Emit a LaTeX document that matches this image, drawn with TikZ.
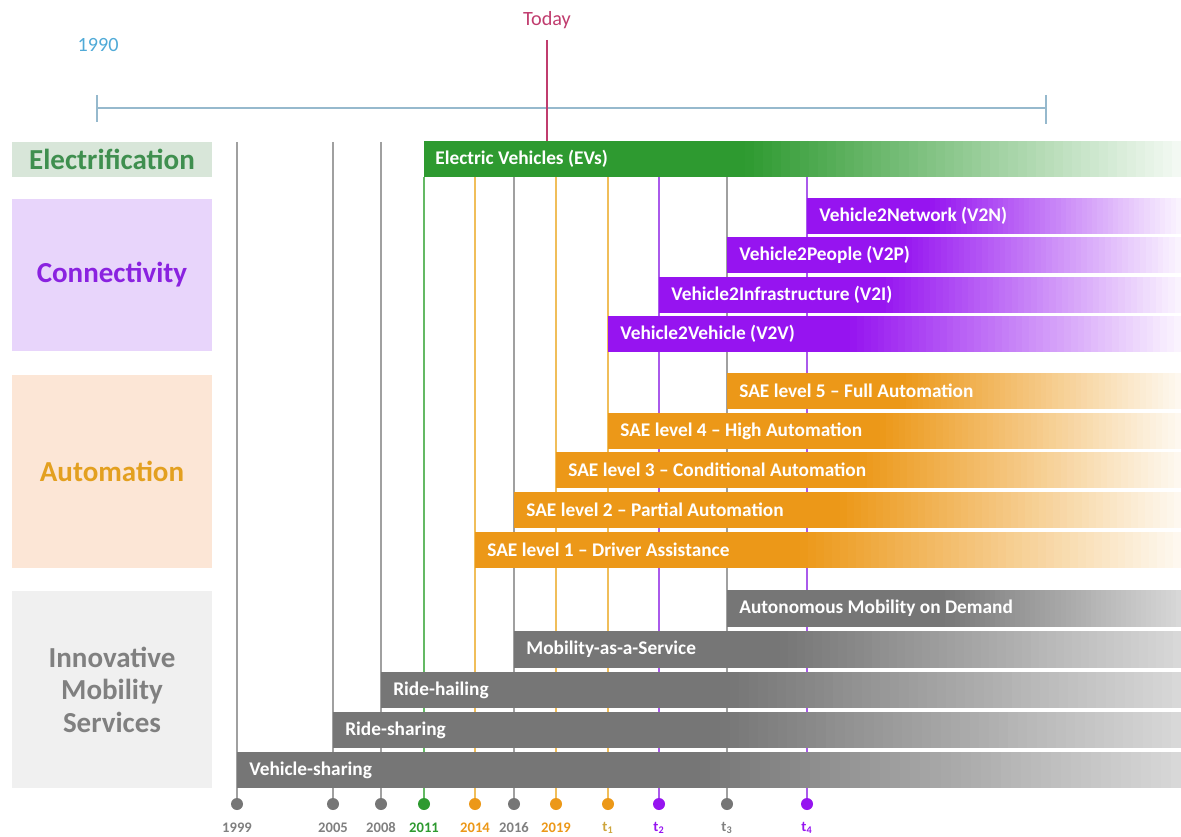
\documentclass[tikz,border=0pt]{standalone}
\usepackage{fontspec}
\setmainfont{Carlito}
\usepackage{tikz}
\usetikzlibrary{positioning}

\definecolor{evgreen}{RGB}{46,154,48}
\definecolor{conpurple}{RGB}{150,20,240}
\definecolor{autoorange}{RGB}{236,152,24}
\definecolor{imsgray}{RGB}{118,118,118}
\definecolor{elfill}{RGB}{216,230,217}
\definecolor{eltext}{RGB}{63,143,79}
\definecolor{confill}{RGB}{232,213,251}
\definecolor{context}{RGB}{138,34,224}
\definecolor{autofill}{RGB}{252,230,214}
\definecolor{autotext}{RGB}{227,160,32}
\definecolor{imsfill}{RGB}{240,240,240}
\definecolor{imstext}{RGB}{128,128,128}
\definecolor{tlblue}{RGB}{150,185,205}
\definecolor{yearblue}{RGB}{80,170,215}
\definecolor{todaypink}{RGB}{192,60,110}
\definecolor{guidegray}{RGB}{160,160,160}
\definecolor{guidegreen}{RGB}{100,185,100}
\definecolor{guideorange}{RGB}{240,190,90}
\definecolor{guidepurple}{RGB}{170,90,235}
\definecolor{tonegold}{RGB}{205,165,60}

% bar: colour, start x, fade x, top y, bottom y, end tint
\newcommand{\timebar}[6]{%
  \fill[#1] (#2,#4) rectangle (#3+1,#5);
  \foreach \k in {0,...,47}{%
    \pgfmathsetmacro{\xa}{#3+(1181-#3)/48*\k}
    \pgfmathsetmacro{\xb}{min(1181,#3+(1181-#3)/48*(\k+1)+1)}
    \pgfmathsetmacro{\tint}{100-(100-#6)/48*(\k+0.5)}
    \fill[#1!\tint] (\xa,#4) rectangle (\xb,#5);
  }%
}

\tikzset{
  catbox/.style={inner sep=0pt, minimum width=40mm, align=center,
    font=\fontsize{16.5}{18.5}\selectfont\bfseries},
  bartext/.style={anchor=west, inner sep=0pt, text=white,
    font=\fontsize{11}{13}\selectfont\bfseries},
  toplabel/.style={inner sep=0pt, font=\fontsize{11.5}{13}\selectfont},
  yeardot/.style={circle, inner sep=0pt, minimum size=2.4mm},
  yearlabel/.style={inner sep=0pt, font=\fontsize{8.3}{9}\selectfont\bfseries},
  guide/.style={line width=0.6pt},
}

\begin{document}
\begin{tikzpicture}[x=0.2mm, y=-0.2mm]
\useasboundingbox (0,0) rectangle (1181,837);

% category boxes
\draw (112,159.5) node[catbox, fill=elfill, text=eltext, minimum height=7mm] (catel) {Electrification};
\draw (112,275) node[catbox, fill=confill, text=context, minimum height=30.4mm] (catcon) {Connectivity};
\draw (112,471.5) node[catbox, fill=autofill, text=autotext, minimum height=38.6mm] (catauto) {Automation};
\draw (112,689.5) node[catbox, fill=imsfill, text=imstext, minimum height=39.4mm] (catims) {Innovative\\Mobility\\Services};

% timeline
\coordinate (tlstart) at (97,108);
\coordinate (tlend) at (1046,108);
\draw[tlblue, line width=0.8pt] (tlstart) -- (tlend);
\draw[tlblue, line width=0.8pt] (97,95) -- (97,122);
\draw[tlblue, line width=0.8pt] (1046,95) -- (1046,124);
\draw (98,45) node[toplabel, text=yearblue] (yrstart) {1990};
\draw (547,20) node[toplabel, text=todaypink] (today) {Today};
\coordinate (todayend) at (547,141);
\draw[todaypink, line width=0.6pt, shorten <=2.2mm] (today) -- (todayend);

% milestones
\draw (237,804) node[yeardot, fill=imsgray] (d1999) {};
\draw (333,804) node[yeardot, fill=imsgray] (d2005) {};
\draw (381,804) node[yeardot, fill=imsgray] (d2008) {};
\draw (424,804) node[yeardot, fill=evgreen] (d2011) {};
\draw (475,804) node[yeardot, fill=autoorange] (d2014) {};
\draw (514,804) node[yeardot, fill=imsgray] (d2016) {};
\draw (556,804) node[yeardot, fill=autoorange] (d2019) {};
\draw (608,804) node[yeardot, fill=autoorange] (dt1) {};
\draw (659,804) node[yeardot, fill=conpurple] (dt2) {};
\draw (727,804) node[yeardot, fill=imsgray] (dt3) {};
\draw (807,804) node[yeardot, fill=conpurple] (dt4) {};

\coordinate (top1999) at (237,142);
\coordinate (top2005) at (333,142);
\coordinate (top2008) at (381,142);
\coordinate (top2011) at (424,177);
\coordinate (top2014) at (475,177);
\coordinate (top2016) at (514,177);
\coordinate (top2019) at (556,177);
\coordinate (topt1) at (608,177);
\coordinate (topt2) at (659,177);
\coordinate (topt3) at (727,177);
\coordinate (topt4) at (807,141);

\draw[guide, guidegray] (top1999) -- (d1999);
\draw[guide, guidegray] (top2005) -- (d2005);
\draw[guide, guidegray] (top2008) -- (d2008);
\draw[guide, guidegreen] (top2011) -- (d2011);
\draw[guide, guideorange] (top2014) -- (d2014);
\draw[guide, guidegray] (top2016) -- (d2016);
\draw[guide, guideorange] (top2019) -- (d2019);
\draw[guide, guideorange] (topt1) -- (dt1);
\draw[guide, guidepurple] (topt2) -- (dt2);
\draw[guide, guidegray] (topt3) -- (dt3);
\draw[guide, guidepurple] (topt4) -- (dt4);

% bars, fading towards the future
\timebar{evgreen}{424}{745}{141}{177}{5}
\timebar{conpurple}{807}{930}{198}{234}{4}
\timebar{conpurple}{727}{900}{237}{273}{4}
\timebar{conpurple}{659}{880}{277}{313}{4}
\timebar{conpurple}{608}{850}{316}{352}{4}
\timebar{autoorange}{727}{900}{373}{409}{6}
\timebar{autoorange}{608}{880}{413}{449}{6}
\timebar{autoorange}{556}{860}{452}{488}{6}
\timebar{autoorange}{514}{840}{492}{528}{6}
\timebar{autoorange}{475}{800}{532}{568}{6}
\timebar{imsgray}{727}{940}{590}{627}{28}
\timebar{imsgray}{514}{780}{631}{668}{28}
\timebar{imsgray}{381}{730}{672}{708}{28}
\timebar{imsgray}{333}{720}{712}{748}{28}
\timebar{imsgray}{237}{700}{752}{788}{28}

% bar labels
\draw (435,159) node[bartext] (ev) {Electric Vehicles (EVs)};
\draw (819,216) node[bartext] (vtwon) {Vehicle2Network (V2N)};
\draw (739,255) node[bartext] (vtwop) {Vehicle2People (V2P)};
\draw (671,295) node[bartext] (vtwoi) {Vehicle2Infrastructure (V2I)};
\draw (620,334) node[bartext] (vtwov) {Vehicle2Vehicle (V2V)};
\draw (739,391) node[bartext] (saefive) {SAE level 5 -- Full Automation};
\draw (620,431) node[bartext] (saefour) {SAE level 4 -- High Automation};
\draw (568,470) node[bartext] (saethree) {SAE level 3 -- Conditional Automation};
\draw (526,510) node[bartext] (saetwo) {SAE level 2 -- Partial Automation};
\draw (487,550) node[bartext] (saeone) {SAE level 1 -- Driver Assistance};
\draw (739,608.5) node[bartext] (amod) {Autonomous Mobility on Demand};
\draw (526,649.5) node[bartext] (maas) {Mobility-as-a-Service};
\draw (393,690) node[bartext] (ridehail) {Ride-hailing};
\draw (345,730) node[bartext] (rideshare) {Ride-sharing};
\draw (249,770) node[bartext] (vehshare) {Vehicle-sharing};

% milestone labels
\node[yearlabel, text=imstext, below=2.4mm of d1999] (l1999) {1999};
\node[yearlabel, text=imstext, below=2.4mm of d2005] (l2005) {2005};
\node[yearlabel, text=imstext, below=2.4mm of d2008] (l2008) {2008};
\node[yearlabel, text=evgreen, below=2.4mm of d2011] (l2011) {2011};
\node[yearlabel, text=autoorange, below=2.4mm of d2014] (l2014) {2014};
\node[yearlabel, text=imstext, below=2.4mm of d2016] (l2016) {2016};
\node[yearlabel, text=autoorange, below=2.4mm of d2019] (l2019) {2019};
\node[yearlabel, text=tonegold, below=2.4mm of dt1] (lt1) {t\textsubscript{1}};
\node[yearlabel, text=conpurple, below=2.4mm of dt2] (lt2) {t\textsubscript{2}};
\node[yearlabel, text=imstext, below=2.4mm of dt3] (lt3) {t\textsubscript{3}};
\node[yearlabel, text=conpurple, below=2.4mm of dt4] (lt4) {t\textsubscript{4}};
\end{tikzpicture}
\end{document}
